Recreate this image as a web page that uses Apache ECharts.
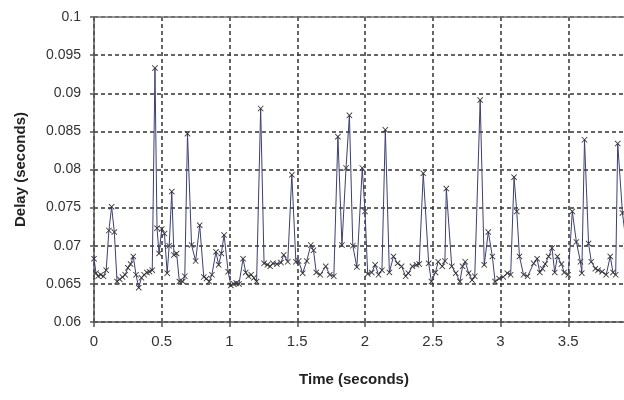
<!DOCTYPE html>
<html>
<head>
<meta charset="utf-8">
<title>Delay vs Time</title>
<script src="https://cdn.jsdelivr.net/npm/echarts@6/dist/echarts.min.js"></script>
<style>
	html, body { margin: 0; padding: 0; background: #fff; }
	#chart-body { width: 624px; height: 400px; }
</style>
</head>
<body>
<div id="chart-body"></div>
<script>
// time (s) and delay (s)
var times = [
	0.00, 0.015, 0.03, 0.05, 0.07, 0.09, 0.11, 0.13, 0.15, 0.17,
	0.19, 0.21, 0.23, 0.25, 0.27, 0.29, 0.31, 0.33, 0.35, 0.37,
	0.39, 0.41, 0.43, 0.45, 0.465, 0.48, 0.50, 0.52, 0.54, 0.555,
	0.574, 0.59, 0.61, 0.63, 0.655, 0.67, 0.69, 0.72, 0.75, 0.78,
	0.81, 0.83, 0.85, 0.87, 0.90, 0.92, 0.94, 0.96, 0.99, 1.01,
	1.03, 1.05, 1.07, 1.10, 1.12, 1.14, 1.16, 1.18, 1.20, 1.23,
	1.255, 1.28, 1.30, 1.32, 1.35, 1.38, 1.40, 1.43, 1.46, 1.49,
	1.51, 1.54, 1.57, 1.60, 1.62, 1.64, 1.67, 1.71, 1.74, 1.77,
	1.80, 1.83, 1.86, 1.885, 1.91, 1.94, 1.98, 2.00, 2.02, 2.05,
	2.075, 2.10, 2.125, 2.15, 2.18, 2.21, 2.24, 2.27, 2.30, 2.32,
	2.35, 2.38, 2.40, 2.43, 2.47, 2.49, 2.52, 2.54, 2.57, 2.59,
	2.60, 2.64, 2.67, 2.70, 2.72, 2.74, 2.765, 2.79, 2.81, 2.85,
	2.88, 2.91, 2.94, 2.96, 2.99, 3.02, 3.05, 3.075, 3.10, 3.12,
	3.14, 3.17, 3.20, 3.245, 3.27, 3.29, 3.31, 3.33, 3.355, 3.38,
	3.40, 3.42, 3.45, 3.47, 3.50, 3.53, 3.56, 3.59, 3.60, 3.62,
	3.65, 3.67, 3.70, 3.72, 3.75, 3.78, 3.81, 3.83, 3.85, 3.865,
	3.90, 3.93
];
var delays = [
	0.0683, 0.0664, 0.0660, 0.0662, 0.0660, 0.0668, 0.0720, 0.0751, 0.0718, 0.0653,
	0.0656, 0.0659, 0.0662, 0.0671, 0.0676, 0.0686, 0.0662, 0.0645, 0.0658, 0.0662,
	0.0665, 0.0666, 0.0668, 0.0933, 0.0723, 0.0690, 0.0722, 0.0716, 0.0664, 0.0700,
	0.0771, 0.0688, 0.0690, 0.0653, 0.0653, 0.0660, 0.0847, 0.0701, 0.0680, 0.0727,
	0.0659, 0.0657, 0.0653, 0.0662, 0.0692, 0.0675, 0.0690, 0.0714, 0.0666, 0.0648,
	0.0650, 0.0651, 0.0650, 0.0683, 0.0665, 0.0660, 0.0662, 0.0658, 0.0653, 0.0880,
	0.0677, 0.0675, 0.0673, 0.0677, 0.0676, 0.0678, 0.0688, 0.0679, 0.0793, 0.0679,
	0.0680, 0.0664, 0.0680, 0.0701, 0.0694, 0.0665, 0.0662, 0.0673, 0.0662, 0.0660,
	0.0843, 0.0701, 0.0802, 0.0871, 0.0700, 0.0672, 0.0802, 0.0745, 0.0663, 0.0665,
	0.0675, 0.0662, 0.0668, 0.0852, 0.0665, 0.0686, 0.0677, 0.0673, 0.0660, 0.0664,
	0.0673, 0.0675, 0.0676, 0.0795, 0.0677, 0.0653, 0.0665, 0.0679, 0.0673, 0.0680,
	0.0775, 0.0673, 0.0664, 0.0653, 0.0673, 0.0679, 0.0664, 0.0655, 0.0660, 0.0891,
	0.0675, 0.0718, 0.0686, 0.0653, 0.0657, 0.0659, 0.0664, 0.0662, 0.0790, 0.0745,
	0.0686, 0.0662, 0.0660, 0.0677, 0.0683, 0.0665, 0.0670, 0.0676, 0.0686, 0.0697,
	0.0665, 0.0686, 0.0676, 0.0665, 0.0662, 0.0745, 0.0705, 0.0679, 0.0664, 0.0839,
	0.0703, 0.0679, 0.0670, 0.0668, 0.0666, 0.0662, 0.0686, 0.0665, 0.0662, 0.0834,
	0.0743, 0.0700
];

var fontFamily = "'Liberation Sans Narrow', 'Arial Narrow', 'Liberation Sans', sans-serif";

var points = [];
for (var i = 0; i < times.length; i++) {
	points.push([times[i], delays[i]]);
}

var gridLine = {
	show: true,
	lineStyle: { color: '#333', width: 1.5, type: [4, 3] }
};

var option = {
	backgroundColor: '#fff',
	animation: false,
	grid: {
		left: 94,
		top: 17,
		bottom: 78,
		width: 542,
		outerBoundsMode: 'none',
		containLabel: false
	},
	xAxis: [
		{
			type: 'value',
			min: 0,
			max: 4,
			interval: 0.5,
			name: 'Time (seconds)',
			nameLocation: 'middle',
			nameGap: 50,
			nameTextStyle: {
				fontFamily: fontFamily,
				fontSize: 15,
				fontWeight: 'bold',
				color: '#222',
				padding: [0, 22, 0, 0]
			},
			axisLine: { show: true, lineStyle: { color: '#555', width: 1.5 } },
			axisTick: { show: true, length: 5, lineStyle: { color: '#555', width: 1.5 } },
			axisLabel: {
				margin: 12,
				fontFamily: fontFamily,
				fontSize: 15,
				color: '#333'
			},
			splitLine: gridLine
		},
		{
			// top border of the plot
			type: 'value',
			position: 'top',
			min: 0,
			max: 4,
			axisLine: { show: true, onZero: false, lineStyle: { color: '#777', width: 1.5 } },
			axisTick: { show: false },
			axisLabel: { show: false },
			splitLine: { show: false }
		}
	],
	yAxis: {
		type: 'value',
		min: 0.06,
		max: 0.1,
		interval: 0.005,
		name: 'Delay (seconds)',
		nameLocation: 'middle',
		nameGap: 66,
		nameTextStyle: {
			fontFamily: fontFamily,
			fontSize: 15,
			fontWeight: 'bold',
			color: '#222'
		},
		axisLine: { show: true, lineStyle: { color: '#555', width: 1.5 } },
		axisTick: { show: true, length: 4, lineStyle: { color: '#555', width: 1.5 } },
		axisLabel: {
			margin: 13,
			fontFamily: fontFamily,
			fontSize: 14,
			color: '#333'
		},
		splitLine: gridLine
	},
	series: [
		{
			name: 'Delay',
			type: 'line',
			data: points,
			showAllSymbol: true,
			symbol: 'path://M0,1L1,0L5,4L9,0L10,1L6,5L10,9L9,10L5,6L1,10L0,9L4,5Z',
			symbolSize: 6,
			itemStyle: { color: '#333' },
			lineStyle: { color: '#3c4070', width: 1 },
			z: 3
		}
	]
};

var myChart = echarts.init(document.getElementById('chart-body'));
myChart.setOption(option);
</script>
</body>
</html>
